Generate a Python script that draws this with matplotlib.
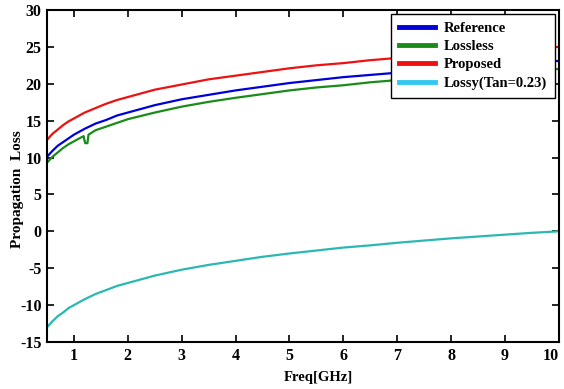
import numpy as np
import matplotlib
matplotlib.use("Agg")
from matplotlib import pyplot as plt
from matplotlib.lines import Line2D

plt.rcParams['font.family'] = ['Liberation Serif', 'DejaVu Serif']
plt.rcParams['font.weight'] = 'bold'
plt.rcParams['axes.unicode_minus'] = False

# frequency samples (GHz)
freq = [0.5, 0.55, 0.6, 0.65, 0.7, 0.8, 0.9, 1.0, 1.2, 1.4, 1.6, 1.8, 2.0, 2.5, 3.0, 3.5,
        4.0, 4.5, 5.0, 5.5, 6.0, 6.5, 7.0, 7.5, 8.0, 8.5, 9.0, 9.5, 10.0]

reference = [10.1, 10.5, 10.9, 11.25, 11.6, 12.1, 12.6, 13.1, 13.9, 14.6, 15.1, 15.7, 16.1, 17.1, 17.9, 18.5,
             19.1, 19.6, 20.1, 20.5, 20.9, 21.2, 21.5, 21.8, 22.1, 22.4, 22.6, 22.9, 23.1]
proposed = [12.4, 12.8, 13.2, 13.5, 13.8, 14.4, 14.9, 15.3, 16.1, 16.7, 17.3, 17.8, 18.2, 19.2, 19.9, 20.6,
            21.1, 21.6, 22.1, 22.5, 22.8, 23.2, 23.5, 23.8, 24.0, 24.3, 24.5, 24.8, 25.0]
lossy = [-13.0, -12.6, -12.2, -11.85, -11.5, -11.0, -10.4, -10.0, -9.2, -8.5, -7.95, -7.4, -7.0, -6.0, -5.2, -4.55,
         -4.0, -3.45, -3.0, -2.6, -2.2, -1.9, -1.55, -1.25, -0.95, -0.7, -0.45, -0.2, 0.0]

# lossless has a small notch near 1.2 GHz
freq_ll = [0.5, 0.55, 0.6, 0.65, 0.7, 0.8, 0.9, 1.0, 1.1, 1.18, 1.19, 1.21, 1.25, 1.26, 1.27, 1.4, 1.6, 1.8,
           2.0, 2.5, 3.0, 3.5, 4.0, 4.5, 5.0, 5.5, 6.0, 6.5, 7.0, 7.5, 8.0, 8.5, 9.0, 9.5, 10.0]
lossless = [9.3, 9.7, 10.1, 10.4, 10.7, 11.3, 11.8, 12.2, 12.6, 12.9, 12.5, 11.95, 11.95, 12.5, 13.1, 13.7,
            14.2, 14.7, 15.2, 16.1, 16.9, 17.55, 18.1, 18.6, 19.1, 19.5, 19.8, 20.2, 20.5, 20.8,
            21.1, 21.3, 21.6, 21.8, 22.0]

fig = plt.figure(figsize=(5.64, 3.89), dpi=100)
ax = fig.add_axes([0.0833, 0.1208, 0.9077, 0.8535])

ax.plot(freq, reference, color='#0000d8', lw=1.6)
ax.plot(freq_ll, lossless, color='#1a8a1a', lw=1.6)
ax.plot(freq, proposed, color='#ee1111', lw=1.6)
ax.plot(freq, lossy, color='#2ab8b0', lw=1.6)

ax.set_xlim(0.5, 10)
ax.set_ylim(-15, 30)
ax.set_xticks(range(1, 11))
ax.set_yticks(range(-15, 31, 5))
ax.tick_params(direction='in', top=True, right=True, length=5, width=1.2, labelsize=11.5, pad=4)
ax.get_xticklabels()[-1].set_horizontalalignment('right')
for s in ax.spines.values():
    s.set_linewidth(1.5)
ax.set_xlabel('Freq[GHz]', fontsize=10.5, fontweight='bold')
ax.set_ylabel('Propagation  Loss', fontsize=11, fontweight='bold')
ax.xaxis.set_label_coords(0.531, -0.088)
ax.yaxis.set_label_coords(-0.045, 0.46)

handles = [Line2D([], [], color='#0000d8', lw=3.5),
           Line2D([], [], color='#1a8a1a', lw=3.5),
           Line2D([], [], color='#ee1111', lw=3.5),
           Line2D([], [], color='#33c8f0', lw=3.5)]
labels = ['Reference', 'Lossless', 'Proposed', 'Lossy(Tan=0.23)']
leg = ax.legend(handles, labels, loc='upper right', fancybox=False, framealpha=1,
                edgecolor='black', fontsize=10.5, handlelength=2.5, handletextpad=0.6,
                borderaxespad=0.25, labelspacing=0.35, borderpad=0.55)
leg.get_frame().set_linewidth(1.0)

fig.savefig('out.png', dpi=100)
